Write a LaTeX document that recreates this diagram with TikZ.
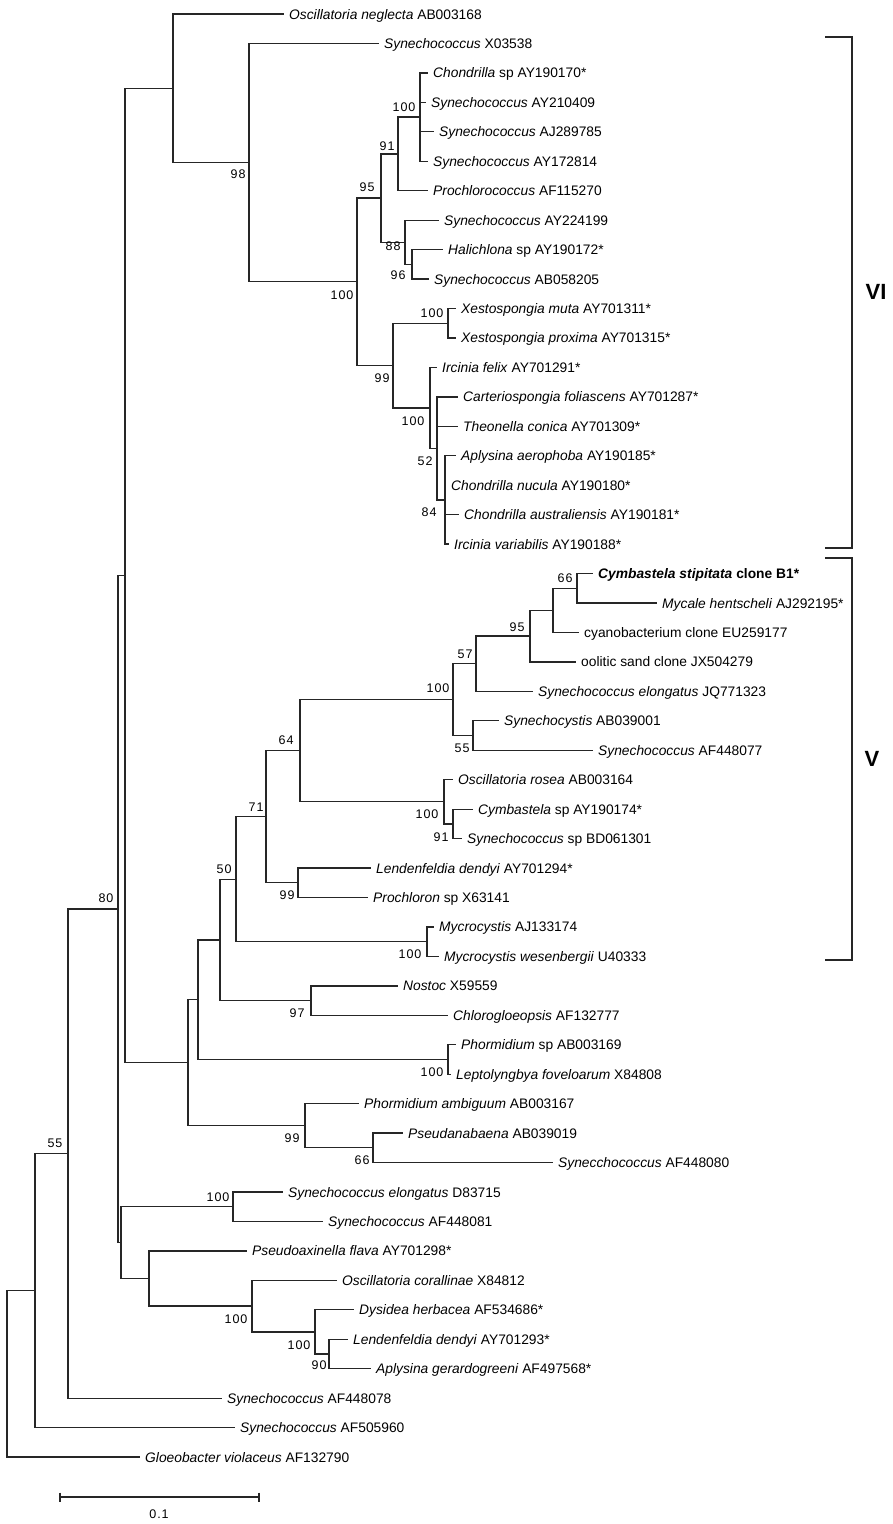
\documentclass[tikz,border=0pt]{standalone}
\usepackage{fontspec}
\setmainfont{Liberation Sans}
\newfontfamily\bsfont{Liberation Sans}[LetterSpace=8]
\begin{document}
\begin{tikzpicture}[x=1pt,y=-1pt,
  br/.style={line width=1.3pt, black!85, line cap=rect},
  bracketline/.style={line width=2pt, black!85},
  leaf/.style={anchor=base west, inner sep=0pt, xshift=6pt, yshift=-5pt, font=\fontsize{13.8}{16}\selectfont},
  bs/.style={inner sep=0pt, font=\bsfont\fontsize{12.5}{14}\selectfont},
  clade/.style={inner sep=0pt, font=\bfseries\fontsize{22}{26}\selectfont}]
\useasboundingbox (0,0) rectangle (892,1524);
% ---------- leaf tips ----------
\coordinate (l1) at (283,14);
\coordinate (l2) at (378,43.45);
\coordinate (l3) at (427,72.9);
\coordinate (l4) at (425,102.35);
\coordinate (l5) at (433,131.8);
\coordinate (l6) at (427,161.25);
\coordinate (l7) at (427,190.7);
\coordinate (l8) at (438,220.15);
\coordinate (l9) at (442,249.6);
\coordinate (l10) at (428,279.05);
\coordinate (l11) at (455,308.5);
\coordinate (l12) at (455,337.95);
\coordinate (l13) at (436,367.4);
\coordinate (l14) at (457,396.85);
\coordinate (l15) at (457,426.3);
\coordinate (l16) at (455,455.75);
\coordinate (l17) at (445,485.2);
\coordinate (l18) at (458,514.65);
\coordinate (l19) at (448,544.1);
\coordinate (l20) at (592,573.55);
\coordinate (l21) at (656,603);
\coordinate (l22) at (578,632.45);
\coordinate (l23) at (575,661.9);
\coordinate (l24) at (532,691.35);
\coordinate (l25) at (498,720.8);
\coordinate (l26) at (592,750.25);
\coordinate (l27) at (452,779.7);
\coordinate (l28) at (472,809.15);
\coordinate (l29) at (461,838.6);
\coordinate (l30) at (370,868.05);
\coordinate (l31) at (367,897.5);
\coordinate (l32) at (433,926.95);
\coordinate (l33) at (438,956.4);
\coordinate (l34) at (397,985.85);
\coordinate (l35) at (447,1015.3);
\coordinate (l36) at (455,1044.75);
\coordinate (l37) at (450,1074.2);
\coordinate (l38) at (358,1103.65);
\coordinate (l39) at (402,1133.1);
\coordinate (l40) at (552,1162.55);
\coordinate (l41) at (282,1192);
\coordinate (l42) at (322,1221.45);
\coordinate (l43) at (246,1250.9);
\coordinate (l44) at (336,1280.35);
\coordinate (l45) at (353,1309.8);
\coordinate (l46) at (347,1339.25);
\coordinate (l47) at (370,1368.7);
\coordinate (l48) at (221,1398.15);
\coordinate (l49) at (234,1427.6);
\coordinate (l50) at (139,1457.05);
% ---------- internal nodes ----------
\coordinate (n7) at (7,1373.83);
\coordinate (n35) at (35,1290.61);
\coordinate (n68) at (68,1153.61);
\coordinate (n118) at (118,909.07);
\coordinate (n125) at (125,575.52);
\coordinate (nA) at (173,88.32);
\coordinate (n249) at (249,162.63);
\coordinate (n357) at (357,281.81);
\coordinate (n381) at (381,198.06);
\coordinate (n398) at (398,153.89);
\coordinate (n420) at (420,117.08);
\coordinate (n405) at (405,242.24);
\coordinate (n412) at (412,264.33);
\coordinate (n393) at (393,365.56);
\coordinate (n448) at (448,323.23);
\coordinate (n430) at (430,407.9);
\coordinate (n437) at (437,448.39);
\coordinate (n445) at (445,499.93);
\coordinate (n188) at (188,1062.71);
\coordinate (n198) at (198,999.68);
\coordinate (n220) at (220,939.89);
\coordinate (n236) at (236,879.21);
\coordinate (n266) at (266,816.74);
\coordinate (n300) at (300,750.71);
\coordinate (n453) at (453,699.63);
\coordinate (n476) at (476,663.74);
\coordinate (n530) at (530,636.13);
\coordinate (n553) at (553,610.36);
\coordinate (n577) at (577,588.28);
\coordinate (n473) at (473,735.53);
\coordinate (n444) at (444,801.79);
\coordinate (n453b) at (453,823.88);
\coordinate (n298) at (298,882.78);
\coordinate (n427) at (427,941.68);
\coordinate (n311) at (311,1000.58);
\coordinate (n448b) at (448,1059.48);
\coordinate (n305) at (305,1125.74);
\coordinate (n373) at (373,1147.83);
\coordinate (n121) at (121,1242.62);
\coordinate (n233) at (233,1206.73);
\coordinate (n149) at (149,1278.51);
\coordinate (n252) at (252,1306.12);
\coordinate (n315) at (315,1331.89);
\coordinate (n329) at (329,1353.98);
% ---------- branches ----------
\draw[br] (n7) |- (n35) (n7) |- (l50);
\draw[br] (n35) |- (n68) (n35) |- (l49);
\draw[br] (n68) |- (n118) (n68) |- (l48);
\draw[br] (n118) |- (n125) (n118) |- (n121);
\draw[br] (n125) |- (nA) (n125) |- (n188);
\draw[br] (nA) |- (l1) (nA) |- (n249);
\draw[br] (n249) |- (l2) (n249) |- (n357);
\draw[br] (n357) |- (n381) (n357) |- (n393);
\draw[br] (n381) |- (n398) (n381) |- (n405);
\draw[br] (n398) |- (n420) (n398) |- (l7);
\draw[br] (n420) |- (l3) (n420) |- (l4) (n420) |- (l5) (n420) |- (l6);
\draw[br] (n405) |- (l8) (n405) |- (n412);
\draw[br] (n412) |- (l9) (n412) |- (l10);
\draw[br] (n393) |- (n448) (n393) |- (n430);
\draw[br] (n448) |- (l11) (n448) |- (l12);
\draw[br] (n430) |- (l13) (n430) |- (n437);
\draw[br] (n437) |- (l14) (n437) |- (l15) (n437) |- (n445);
\draw[br] (n445) |- (l16) (n445) |- (l17) (n445) |- (l18) (n445) |- (l19);
\draw[br] (n188) |- (n198) (n188) |- (n305);
\draw[br] (n198) |- (n220) (n198) |- (n448b);
\draw[br] (n220) |- (n236) (n220) |- (n311);
\draw[br] (n236) |- (n266) (n236) |- (n427);
\draw[br] (n266) |- (n300) (n266) |- (n298);
\draw[br] (n300) |- (n453) (n300) |- (n444);
\draw[br] (n453) |- (n476) (n453) |- (n473);
\draw[br] (n476) |- (n530) (n476) |- (l24);
\draw[br] (n530) |- (n553) (n530) |- (l23);
\draw[br] (n553) |- (n577) (n553) |- (l22);
\draw[br] (n577) |- (l20) (n577) |- (l21);
\draw[br] (n473) |- (l25) (n473) |- (l26);
\draw[br] (n444) |- (l27) (n444) |- (n453b);
\draw[br] (n453b) |- (l28) (n453b) |- (l29);
\draw[br] (n298) |- (l30) (n298) |- (l31);
\draw[br] (n427) |- (l32) (n427) |- (l33);
\draw[br] (n311) |- (l34) (n311) |- (l35);
\draw[br] (n448b) |- (l36) (n448b) |- (l37);
\draw[br] (n305) |- (l38) (n305) |- (n373);
\draw[br] (n373) |- (l39) (n373) |- (l40);
\draw[br] (n121) |- (n233) (n121) |- (n149);
\draw[br] (n233) |- (l41) (n233) |- (l42);
\draw[br] (n149) |- (l43) (n149) |- (n252);
\draw[br] (n252) |- (l44) (n252) |- (n315);
\draw[br] (n315) |- (l45) (n315) |- (n329);
\draw[br] (n329) |- (l46) (n329) |- (l47);
% ---------- leaf labels ----------
\node[leaf] (t1) at (l1) {\textit{Oscillatoria neglecta} AB003168};
\node[leaf] (t2) at (l2) {\textit{Synechococcus} X03538};
\node[leaf] (t3) at (l3) {\textit{Chondrilla} sp AY190170*};
\node[leaf] (t4) at (l4) {\textit{Synechococcus} AY210409};
\node[leaf] (t5) at (l5) {\textit{Synechococcus} AJ289785};
\node[leaf] (t6) at (l6) {\textit{Synechococcus} AY172814};
\node[leaf] (t7) at (l7) {\textit{Prochlorococcus} AF115270};
\node[leaf] (t8) at (l8) {\textit{Synechococcus} AY224199};
\node[leaf] (t9) at (l9) {\textit{Halichlona} sp AY190172*};
\node[leaf] (t10) at (l10) {\textit{Synechococcus} AB058205};
\node[leaf] (t11) at (l11) {\textit{Xestospongia muta} AY701311*};
\node[leaf] (t12) at (l12) {\textit{Xestospongia proxima} AY701315*};
\node[leaf] (t13) at (l13) {\textit{Ircinia felix} AY701291*};
\node[leaf] (t14) at (l14) {\textit{Carteriospongia foliascens} AY701287*};
\node[leaf] (t15) at (l15) {\textit{Theonella conica} AY701309*};
\node[leaf] (t16) at (l16) {\textit{Aplysina aerophoba} AY190185*};
\node[leaf] (t17) at (l17) {\textit{Chondrilla nucula} AY190180*};
\node[leaf] (t18) at (l18) {\textit{Chondrilla australiensis} AY190181*};
\node[leaf] (t19) at (l19) {\textit{Ircinia variabilis} AY190188*};
\node[leaf] (t20) at (l20) {\textbf{\textit{Cymbastela stipitata} clone B1*}};
\node[leaf] (t21) at (l21) {\textit{Mycale hentscheli} AJ292195*};
\node[leaf] (t22) at (l22) {cyanobacterium clone EU259177};
\node[leaf] (t23) at (l23) {oolitic sand clone JX504279};
\node[leaf] (t24) at (l24) {\textit{Synechococcus elongatus} JQ771323};
\node[leaf] (t25) at (l25) {\textit{Synechocystis} AB039001};
\node[leaf] (t26) at (l26) {\textit{Synechococcus} AF448077};
\node[leaf] (t27) at (l27) {\textit{Oscillatoria rosea} AB003164};
\node[leaf] (t28) at (l28) {\textit{Cymbastela} sp AY190174*};
\node[leaf] (t29) at (l29) {\textit{Synechococcus} sp BD061301};
\node[leaf] (t30) at (l30) {\textit{Lendenfeldia dendyi} AY701294*};
\node[leaf] (t31) at (l31) {\textit{Prochloron} sp X63141};
\node[leaf] (t32) at (l32) {\textit{Mycrocystis} AJ133174};
\node[leaf] (t33) at (l33) {\textit{Mycrocystis wesenbergii} U40333};
\node[leaf] (t34) at (l34) {\textit{Nostoc} X59559};
\node[leaf] (t35) at (l35) {\textit{Chlorogloeopsis} AF132777};
\node[leaf] (t36) at (l36) {\textit{Phormidium} sp AB003169};
\node[leaf] (t37) at (l37) {\textit{Leptolyngbya foveloarum} X84808};
\node[leaf] (t38) at (l38) {\textit{Phormidium ambiguum} AB003167};
\node[leaf] (t39) at (l39) {\textit{Pseudanabaena} AB039019};
\node[leaf] (t40) at (l40) {\textit{Synecchococcus} AF448080};
\node[leaf] (t41) at (l41) {\textit{Synechococcus elongatus} D83715};
\node[leaf] (t42) at (l42) {\textit{Synechococcus} AF448081};
\node[leaf] (t43) at (l43) {\textit{Pseudoaxinella flava} AY701298*};
\node[leaf] (t44) at (l44) {\textit{Oscillatoria corallinae} X84812};
\node[leaf] (t45) at (l45) {\textit{Dysidea herbacea} AF534686*};
\node[leaf] (t46) at (l46) {\textit{Lendenfeldia dendyi} AY701293*};
\node[leaf] (t47) at (l47) {\textit{Aplysina gerardogreeni} AF497568*};
\node[leaf] (t48) at (l48) {\textit{Synechococcus} AF448078};
\node[leaf] (t49) at (l49) {\textit{Synechococcus} AF505960};
\node[leaf] (t50) at (l50) {\textit{Gloeobacter violaceus} AF132790};
% ---------- bootstrap values ----------
\node[bs] (b98) at (238,174) {98};
\node[bs] (b100a) at (342,295) {100};
\node[bs] (b95a) at (367,187) {95};
\node[bs] (b91a) at (387,146) {91};
\node[bs] (b100b) at (404,107) {100};
\node[bs] (b88) at (393,246) {88};
\node[bs] (b96) at (398,275) {96};
\node[bs] (b99a) at (382,378) {99};
\node[bs] (b100c) at (432,313) {100};
\node[bs] (b100d) at (413,421) {100};
\node[bs] (b52) at (425,461) {52};
\node[bs] (b84) at (429,512) {84};
\node[bs] (b66a) at (565,578) {66};
\node[bs] (b95b) at (517,627) {95};
\node[bs] (b57) at (465,654) {57};
\node[bs] (b100e) at (438,688) {100};
\node[bs] (b55a) at (462,748) {55};
\node[bs] (b64) at (286,740) {64};
\node[bs] (b100f) at (427,814) {100};
\node[bs] (b91b) at (441,837) {91};
\node[bs] (b71) at (256,807) {71};
\node[bs] (b99b) at (287,895) {99};
\node[bs] (b50) at (224,869) {50};
\node[bs] (b100g) at (410,954) {100};
\node[bs] (b97) at (297,1013) {97};
\node[bs] (b100h) at (432,1072) {100};
\node[bs] (b99c) at (292,1138) {99};
\node[bs] (b66b) at (362,1160) {66};
\node[bs] (b100i) at (218,1197) {100};
\node[bs] (b100j) at (236,1319) {100};
\node[bs] (b100k) at (299,1345) {100};
\node[bs] (b90) at (319,1365) {90};
\node[bs] (b80) at (106,898) {80};
\node[bs] (b55b) at (55,1143) {55};
% ---------- clade brackets ----------
\coordinate (vi1) at (825,37);
\coordinate (vi2) at (852,37);
\coordinate (vi3) at (852,548);
\coordinate (vi4) at (825,548);
\draw[bracketline] (vi1) -- (vi2) -- (vi3) -- (vi4);
\node[clade] (cVI) at (876,292) {VI};
\coordinate (v1) at (825,558);
\coordinate (v2) at (852,558);
\coordinate (v3) at (852,960);
\coordinate (v4) at (825,960);
\draw[bracketline] (v1) -- (v2) -- (v3) -- (v4);
\node[clade] (cV) at (872,759) {V};
% ---------- scale bar ----------
\coordinate (s1) at (60,1497);
\coordinate (s2) at (259,1497);
\draw[br, line cap=butt] (s1) -- (s2);
\draw[br, line cap=butt] ([yshift=4.5pt]s1) -- ([yshift=-4.5pt]s1);
\draw[br, line cap=butt] ([yshift=4.5pt]s2) -- ([yshift=-4.5pt]s2);
\node[bs] (sl) at (159,1514) {0.1};
\end{tikzpicture}
\end{document}
